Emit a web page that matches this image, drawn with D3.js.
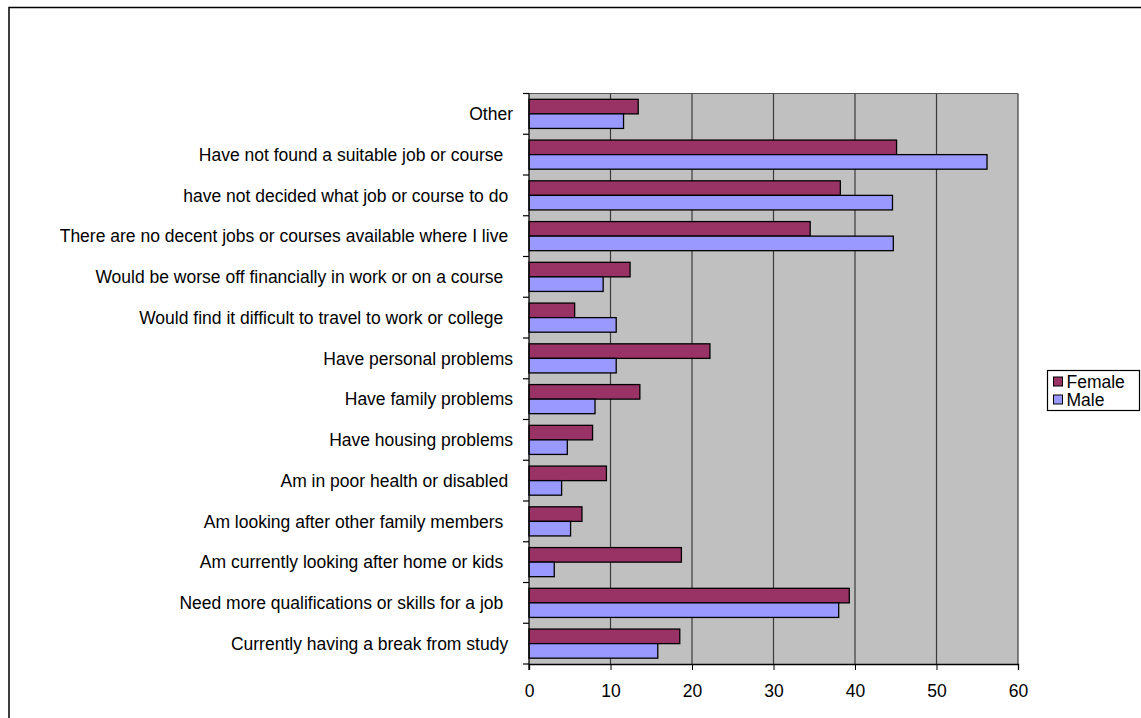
<!DOCTYPE html>
<html>
<head>
<meta charset="utf-8">
<script src="https://cdn.jsdelivr.net/npm/d3@7"></script>
<style>
  html, body { margin: 0; padding: 0; background: #fff; }
  svg { display: block; font-family: "Liberation Sans", Arial, sans-serif; }
</style>
</head>
<body>
<svg id="chart" width="1141" height="718"></svg>
<script>
// Reasons for not being in work or education, by sex (%)
const categories = [
  "Other",
  "Have not found a suitable job or course  ",
  "have not decided what job or course to do ",
  "There are no decent jobs or courses available where I live ",
  "Would be worse off financially in work or on a course  ",
  "Would find it difficult to travel to work or college  ",
  "Have personal problems",
  "Have family problems",
  "Have housing problems",
  "Am in poor health or disabled ",
  "Am looking after other family members  ",
  "Am currently looking after home or kids  ",
  "Need more qualifications or skills for a job  ",
  "Currently having a break from study "
];
const female = [13.4, 45.1, 38.2, 34.5, 12.4, 5.6, 22.2, 13.6, 7.8, 9.5, 6.5, 18.7, 39.3, 18.5];
const male   = [11.6, 56.2, 44.6, 44.7, 9.1, 10.7, 10.7, 8.1, 4.7, 4.0, 5.1, 3.1, 38.0, 15.8];
const seriesNames = ["Female", "Male"];
const seriesColors = ["#993366", "#9999FF"];
const xTicks = [0, 10, 20, 30, 40, 50, 60];

const FONT = 17.5;
const svg = d3.select("#chart");

// Outer chart frame
svg.append("rect")
  .attr("x", 9).attr("y", 7.5)
  .attr("width", 1200).attr("height", 800)
  .attr("fill", "#fff").attr("stroke", "#000").attr("stroke-width", 1.5);

const plot = { left: 529, right: 1018, top: 93.5, bottom: 664 };

const x = d3.scaleLinear().domain([0, 60]).range([plot.left, plot.right]);
const y = d3.scaleBand().domain(categories).range([plot.top, plot.bottom]).paddingInner(0).paddingOuter(0);
const sub = d3.scaleBand().domain(seriesNames).range([0, y.bandwidth()]).paddingInner(0).paddingOuter(0.4);

// Plot area background
svg.append("rect")
  .attr("x", plot.left).attr("y", plot.top)
  .attr("width", plot.right - plot.left).attr("height", plot.bottom - plot.top)
  .attr("fill", "#C0C0C0");

// Vertical gridlines
svg.append("g")
  .selectAll("line")
  .data(xTicks.filter(d => d > 0))
  .join("line")
  .attr("x1", d => x(d)).attr("x2", d => x(d))
  .attr("y1", plot.top).attr("y2", plot.bottom)
  .attr("stroke", "#3a3a3a").attr("stroke-width", 1.2);

// Plot area top border
svg.append("line")
  .attr("x1", plot.left).attr("x2", plot.right)
  .attr("y1", plot.top).attr("y2", plot.top)
  .attr("stroke", "#555").attr("stroke-width", 1.2);

// Bars
const rows = categories.map((c, i) => ({ cat: c, values: [female[i], male[i]] }));
const rowG = svg.append("g").selectAll("g")
  .data(rows)
  .join("g")
  .attr("transform", d => `translate(0,${y(d.cat)})`);

rowG.selectAll("rect")
  .data(d => d.values.map((v, j) => ({ name: seriesNames[j], v, color: seriesColors[j] })))
  .join("rect")
  .attr("x", x(0))
  .attr("y", d => sub(d.name))
  .attr("width", d => x(d.v) - x(0))
  .attr("height", sub.bandwidth())
  .attr("fill", d => d.color)
  .attr("stroke", "#000")
  .attr("stroke-width", 1.3);

// X axis
const xAxis = svg.append("g")
  .attr("transform", `translate(0,${plot.bottom})`)
  .call(d3.axisBottom(x).tickValues(xTicks).tickSize(6).tickPadding(15));
xAxis.select(".domain").attr("stroke", "#000").attr("stroke-width", 1.3);
xAxis.selectAll(".tick line").attr("stroke", "#000");
xAxis.selectAll("text").attr("font-size", FONT).attr("fill", "#000")
  .attr("font-family", "'Liberation Sans', Arial, sans-serif");

// Y axis: ticks at category boundaries
const yAxisG = svg.append("g");
yAxisG.append("line")
  .attr("x1", plot.left).attr("x2", plot.left)
  .attr("y1", plot.top).attr("y2", plot.bottom + 6)
  .attr("stroke", "#000").attr("stroke-width", 1.3);
yAxisG.selectAll("line.tick")
  .data(d3.range(categories.length + 1))
  .join("line")
  .attr("class", "tick")
  .attr("x1", plot.left - 6).attr("x2", plot.left)
  .attr("y1", i => plot.top + i * y.step())
  .attr("y2", i => plot.top + i * y.step())
  .attr("stroke", "#000").attr("stroke-width", 1.2);

yAxisG.selectAll("text")
  .data(categories)
  .join("text")
  .attr("x", 513)
  .attr("y", d => y(d) + y.bandwidth() / 2)
  .attr("dy", "0.35em")
  .attr("text-anchor", "end")
  .attr("font-size", FONT)
  .attr("fill", "#000")
  .style("white-space", "pre")
  .text(d => d);

// Legend
const legend = svg.append("g").attr("transform", "translate(1047.5,370.5)");
legend.append("rect")
  .attr("width", 92).attr("height", 40)
  .attr("fill", "#fff").attr("stroke", "#000").attr("stroke-width", 1.2);
const li = legend.selectAll("g.item")
  .data(seriesNames)
  .join("g")
  .attr("class", "item")
  .attr("transform", (d, i) => `translate(6,${11 + i * 18})`);
li.append("rect")
  .attr("x", 0).attr("y", -4.5)
  .attr("width", 9).attr("height", 9)
  .attr("fill", (d, i) => seriesColors[i])
  .attr("stroke", "#000").attr("stroke-width", 1);
li.append("text")
  .attr("x", 13).attr("y", 0).attr("dy", "0.35em")
  .attr("font-size", FONT).attr("fill", "#000")
  .text(d => d);
</script>
</body>
</html>
